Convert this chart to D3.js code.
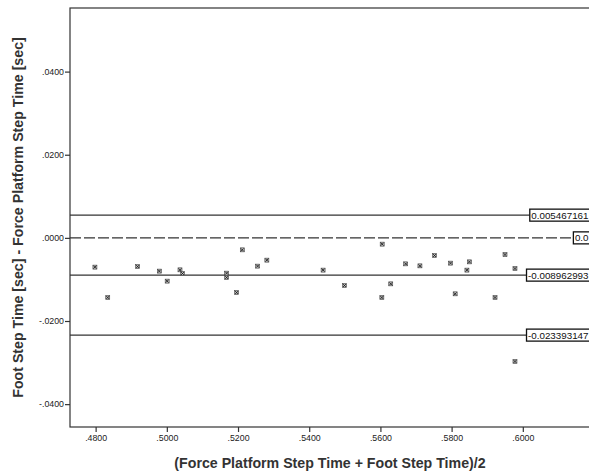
<!DOCTYPE html>
<html>
<head>
<meta charset="utf-8">
<script src="https://cdn.jsdelivr.net/npm/d3@7"></script>
<style>
  body { margin: 0; background: #fff; }
  svg { display: block; font-family: "Liberation Sans", Arial, sans-serif; }
</style>
</head>
<body>
<div id="chart"></div>
<script>
// Bland-Altman: mean of the two step times vs their difference
const meanTime = [0.4798, 0.4834, 0.4918, 0.4979, 0.5001, 0.5037, 0.5044, 0.5168, 0.5168, 0.5196,
                  0.5212, 0.5255, 0.5281, 0.5439, 0.5499, 0.5605, 0.5604, 0.5629, 0.5671, 0.5711,
                  0.5752, 0.5797, 0.5810, 0.5843, 0.5850, 0.5922, 0.5950, 0.5978, 0.5978];
const diffTime = [-0.00704, -0.01435, -0.00690, -0.00800, -0.01041, -0.00769, -0.00858, -0.00849, -0.00954, -0.01315,
                  -0.00288, -0.00680, -0.00536, -0.00776, -0.01147, -0.00151, -0.01435, -0.01106, -0.00625, -0.00673,
                  -0.00425, -0.00608, -0.01346, -0.00776, -0.00577, -0.01435, -0.00401, -0.00738, -0.02974];

const refValues = [0.005467161, 0, -0.008962993, -0.023393147];
const refLabels = ["0.005467161", "0.0", "-0.008962993", "-0.023393147"];
const refDashed = [false, true, false, false];

const xTicks = [0.48, 0.50, 0.52, 0.54, 0.56, 0.58, 0.60];
const yTicks = [0.04, 0.02, 0, -0.02, -0.04];

const W = 589, H = 474;
const mLeft = 70, mTop = 8, mBottom = 427, mRight = 594;

const svg = d3.select("#chart").append("svg")
    .attr("width", W)
    .attr("height", H);

const x = d3.scaleLinear().domain([0.4728, 0.62]).range([mLeft, mRight]);
const y = d3.scaleLinear().domain([-0.0455, 0.0553]).range([mBottom, mTop]);

const fmt = v => {
    const s = Math.abs(v).toFixed(4).replace(/^0/, "");
    return (v < -1e-9 ? "-" : "") + s;
};

// frame
svg.append("rect")
    .attr("x", mLeft)
    .attr("y", mTop)
    .attr("width", mRight - mLeft + 10)
    .attr("height", mBottom - mTop)
    .attr("fill", "none")
    .attr("stroke", "#333")
    .attr("stroke-width", 1.2);

// axes
const yAxis = svg.append("g")
    .attr("transform", `translate(${mLeft},0)`)
    .call(d3.axisLeft(y).tickValues(yTicks).tickFormat(fmt).tickSize(5).tickSizeOuter(0));
const xAxis = svg.append("g")
    .attr("transform", `translate(0,${mBottom})`)
    .call(d3.axisBottom(x).tickValues(xTicks).tickFormat(fmt).tickSize(5).tickSizeOuter(0));

[xAxis, yAxis].forEach(a => {
    a.select(".domain").remove();
    a.selectAll("line").attr("stroke", "#333").attr("stroke-width", 1.2);
    a.selectAll("text")
        .attr("fill", "#222")
        .style("font-size", "8.8px")
        .style("font-family", "'Liberation Sans', Arial, sans-serif");
});
yAxis.selectAll("text").attr("x", -6);
xAxis.selectAll("text").attr("y", 8);

// reference lines with value boxes
refValues.forEach((v, i) => {
    const yy = y(v);
    const lab = svg.append("g");
    const t = lab.append("text")
        .attr("y", yy)
        .attr("dy", "0.35em")
        .attr("fill", "#111")
        .style("font-size", "9.8px")
        .text(refLabels[i]);
    const tw = t.node().getComputedTextLength();
    const bx = mRight - 4 - tw - 3;
    t.attr("x", bx + 1.5);
    lab.insert("rect", "text")
        .attr("x", bx)
        .attr("y", yy - 6)
        .attr("width", tw + 3)
        .attr("height", 12)
        .attr("fill", "#fff")
        .attr("stroke", "#111")
        .attr("stroke-width", 1.3);

    svg.insert("line", "g")
        .attr("x1", mLeft)
        .attr("x2", bx)
        .attr("y1", yy)
        .attr("y2", yy)
        .attr("stroke", "#333")
        .attr("stroke-width", 1.2)
        .attr("stroke-dasharray", refDashed[i] ? "11,3" : null);
});

// points
const pts = svg.append("g");
meanTime.forEach((m, i) => {
    const px = x(m), py = y(diffTime[i]);
    pts.append("rect")
        .attr("x", px - 2)
        .attr("y", py - 2)
        .attr("width", 4)
        .attr("height", 4)
        .attr("fill", "#bbb")
        .attr("stroke", "#444")
        .attr("stroke-width", 0.6);
    pts.append("path")
        .attr("d", `M${px - 1.5},${py - 1.5}L${px + 1.5},${py + 1.5}M${px - 1.5},${py + 1.5}L${px + 1.5},${py - 1.5}`)
        .attr("stroke", "#111")
        .attr("stroke-width", 0.8);
});

// axis titles
svg.append("text")
    .attr("x", (mLeft + 590) / 2)
    .attr("y", 468)
    .attr("text-anchor", "middle")
    .attr("fill", "#333")
    .style("font-size", "14.2px")
    .style("font-weight", "bold")
    .text("(Force Platform Step Time + Foot Step Time)/2");

svg.append("text")
    .attr("transform", `translate(23,${(mTop + mBottom) / 2}) rotate(-90)`)
    .attr("text-anchor", "middle")
    .attr("fill", "#333")
    .style("font-size", "14.2px")
    .style("font-weight", "bold")
    .text("Foot Step Time [sec] - Force Platform Step Time [sec]");
</script>
</body>
</html>
